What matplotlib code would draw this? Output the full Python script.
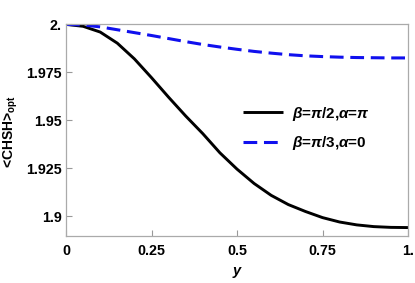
import matplotlib
matplotlib.use("Agg")
import matplotlib.pyplot as plt

plt.rcParams['font.family'] = ['Liberation Sans', 'DejaVu Sans']
plt.rcParams['font.weight'] = 'bold'
plt.rcParams['mathtext.fontset'] = 'custom'
plt.rcParams['mathtext.rm'] = 'Liberation Sans:bold'
plt.rcParams['mathtext.it'] = 'Liberation Sans:bold:italic'
plt.rcParams['mathtext.bf'] = 'Liberation Sans:bold'

y_vals = [0.0, 0.05, 0.10, 0.15, 0.20, 0.25, 0.30, 0.35, 0.40, 0.45, 0.50,
          0.55, 0.60, 0.65, 0.70, 0.75, 0.80, 0.85, 0.90, 0.95, 1.0]
chsh_beta_pi2_alpha_pi = [2.0, 1.9990, 1.9960, 1.9902, 1.9820, 1.9722, 1.9620,
                          1.9522, 1.9430, 1.9330, 1.9245, 1.9170, 1.9108, 1.9060,
                          1.9024, 1.8992, 1.8969, 1.8954, 1.8945, 1.8941, 1.8940]
chsh_beta_pi3_alpha_0 = [2.0, 1.9997, 1.9987, 1.9972, 1.9957, 1.9942, 1.9926,
                         1.9910, 1.9895, 1.9882, 1.9870, 1.9859, 1.9850, 1.9842,
                         1.9836, 1.9832, 1.9829, 1.9827, 1.9826, 1.9825, 1.9825]
labels = [r'$\beta$=$\pi$/2,$\alpha$=$\pi$', r'$\beta$=$\pi$/3,$\alpha$=0']
xticks = [0, 0.25, 0.5, 0.75, 1.0]
xticklabels = ['0', '0.25', '0.5', '0.75', '1.']
yticks = [1.9, 1.925, 1.95, 1.975, 2.0]
yticklabels = ['1.9', '1.925', '1.95', '1.975', '2.']

fig = plt.figure(figsize=(4.15, 2.83), dpi=100)
ax = fig.add_axes([66/415, 1-236/283, 342/415, 212/283])

ax.plot(y_vals, chsh_beta_pi2_alpha_pi, color='black', lw=2.1, label=labels[0],
        solid_capstyle='butt')
ax.plot(y_vals, chsh_beta_pi3_alpha_0, color='#1010ee', lw=2.2, label=labels[1],
        dashes=(4.5, 2.2))

ax.set_xlim(0, 1.0)
ax.set_ylim(1.8896, 2.0002)
ax.set_xticks(xticks)
ax.set_xticklabels(xticklabels)
ax.set_yticks(yticks)
ax.set_yticklabels(yticklabels)
for s in ax.spines.values():
    s.set_color('#aaaaaa')
    s.set_linewidth(0.9)
ax.tick_params(direction='in', length=4, width=0.8, color='#999999',
               labelsize=10.3, pad=6)
ax.tick_params(axis='y', pad=3)
for t in ax.get_xticklabels() + ax.get_yticklabels():
    t.set_fontweight('bold')

ax.set_xlabel('y', fontsize=10.5, fontweight='bold', style='italic')
ax.xaxis.set_label_coords(0.5, -0.13)
ax.set_ylabel(r'<CHSH>$_{\rm opt}$', fontsize=10, fontweight='bold')
ax.yaxis.set_label_coords(-0.134, 0.49)

leg = ax.legend(loc='center left', bbox_to_anchor=(0.5175, 0.508), frameon=False,
                fontsize=11, handlelength=2.6, handletextpad=0.6,
                labelspacing=0.75, borderpad=0, borderaxespad=0)

fig.savefig('out.png', dpi=100)
